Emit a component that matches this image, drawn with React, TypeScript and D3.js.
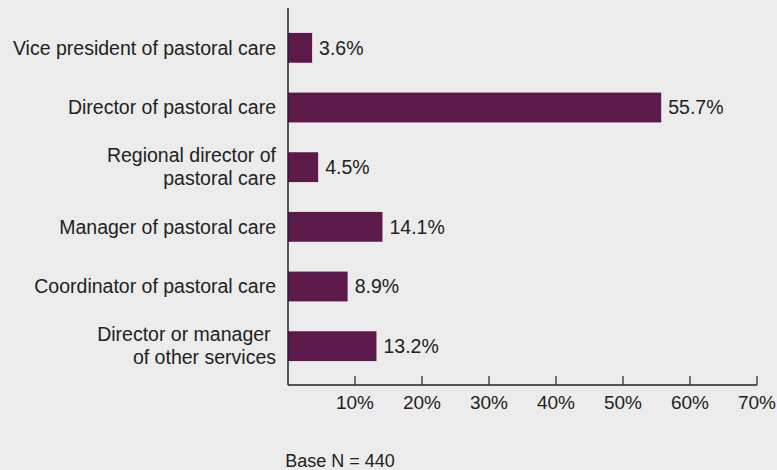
import * as React from 'react';
import { useRef, useEffect } from 'react';
import * as d3 from 'd3';

const categories: string[][] = [
  ['Vice president of pastoral care'],
  ['Director of pastoral care'],
  ['Regional director of', 'pastoral care'],
  ['Manager of pastoral care'],
  ['Coordinator of pastoral care'],
  ['Director or manager\u00a0', 'of other services'],
];
const values: number[] = [3.6, 55.7, 4.5, 14.1, 8.9, 13.2];
const xTicks: number[] = [10, 20, 30, 40, 50, 60, 70];
const baseNote = 'Base N = 440';

const WIDTH = 777;
const HEIGHT = 470;
const FONT = '"Liberation Sans", Arial, sans-serif';

const App: React.FC = () => {
  const svgRef = useRef<SVGSVGElement>(null);

  useEffect(() => {
    if (!svgRef.current) return;
    const svg = d3.select(svgRef.current);
    svg.selectAll('*').remove();

    svg.append('rect')
      .attr('width', WIDTH)
      .attr('height', HEIGHT)
      .attr('fill', '#ececec');

    const x0 = 288;
    const axisY = 385;

    const x = d3.scaleLinear()
      .domain([0, 70])
      .range([x0, 757]);

    const y = d3.scaleBand<number>()
      .domain(d3.range(categories.length))
      .range([18, 376])
      .paddingInner(0.5)
      .paddingOuter(0.25);

    // bars
    svg.selectAll('.bar')
      .data(values)
      .enter()
      .append('rect')
      .attr('class', 'bar')
      .attr('x', x(0))
      .attr('y', (_, i) => y(i)!)
      .attr('width', d => x(d) - x(0))
      .attr('height', y.bandwidth())
      .attr('fill', '#5c1a4b');

    // value labels
    svg.selectAll('.value-label')
      .data(values)
      .enter()
      .append('text')
      .attr('class', 'value-label')
      .attr('x', d => x(d) + 7)
      .attr('y', (_, i) => y(i)! + y.bandwidth() / 2)
      .attr('dy', '0.35em')
      .attr('font-family', FONT)
      .attr('font-size', '19.5px')
      .attr('fill', '#222')
      .text(d => `${d.toFixed(1)}%`);

    // category labels
    const lineH = 23;
    const labels = svg.selectAll('.cat-label')
      .data(categories)
      .enter()
      .append('text')
      .attr('class', 'cat-label')
      .attr('text-anchor', 'end')
      .attr('font-family', FONT)
      .attr('font-size', '19.5px')
      .attr('fill', '#222');

    labels.each(function (lines, i) {
      const cy = y(i)! + y.bandwidth() / 2;
      const top = cy - ((lines.length - 1) * lineH) / 2;
      d3.select(this)
        .selectAll('tspan')
        .data(lines)
        .enter()
        .append('tspan')
        .attr('x', 276)
        .attr('y', (_, j) => top + j * lineH)
        .attr('dy', '0.35em')
        .text(d => d);
    });

    // axes
    const axisColor = '#222';
    svg.append('line')
      .attr('x1', x0).attr('x2', x0)
      .attr('y1', 8).attr('y2', axisY)
      .attr('stroke', axisColor)
      .attr('stroke-width', 1.5);

    svg.append('line')
      .attr('x1', x0).attr('x2', x(70))
      .attr('y1', axisY).attr('y2', axisY)
      .attr('stroke', axisColor)
      .attr('stroke-width', 1.5);

    svg.selectAll('.tick')
      .data(xTicks)
      .enter()
      .append('line')
      .attr('class', 'tick')
      .attr('x1', d => x(d)).attr('x2', d => x(d))
      .attr('y1', axisY - 9).attr('y2', axisY)
      .attr('stroke', axisColor)
      .attr('stroke-width', 1.2);

    svg.selectAll('.tick-label')
      .data(xTicks)
      .enter()
      .append('text')
      .attr('class', 'tick-label')
      .attr('x', d => x(d))
      .attr('y', 409)
      .attr('text-anchor', 'middle')
      .attr('font-family', FONT)
      .attr('font-size', '19px')
      .attr('fill', '#222')
      .text(d => `${d}%`);

    svg.append('text')
      .attr('x', 340)
      .attr('y', 467)
      .attr('text-anchor', 'middle')
      .attr('font-family', FONT)
      .attr('font-size', '18px')
      .attr('fill', '#222')
      .text(baseNote);
  }, []);

  return (
    <div style={{ position: 'fixed', left: 0, top: 0, width: WIDTH, height: HEIGHT }}>
      <svg ref={svgRef} width={WIDTH} height={HEIGHT} style={{ display: 'block' }}></svg>
    </div>
  );
};

export default App;
